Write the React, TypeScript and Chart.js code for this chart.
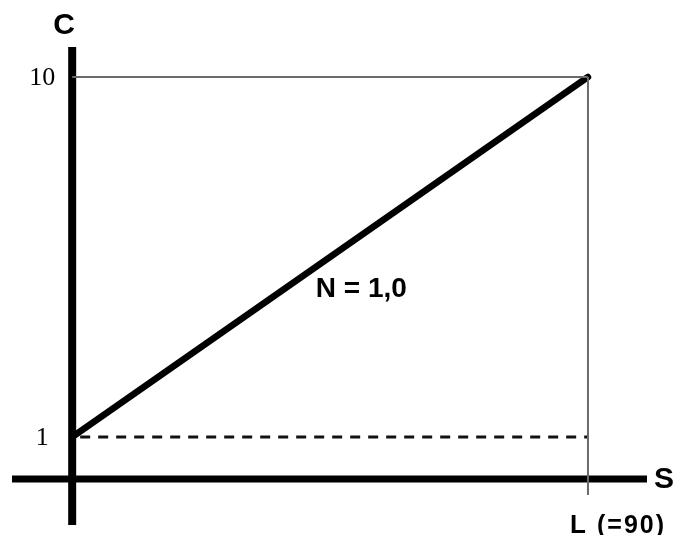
import React, { useEffect, useRef } from "react";
import { Chart, registerables } from "chart.js";

Chart.register(...registerables);

// Data
const sValues = [0, 90];          // S from 0 to L
const cValues = [1, 10];          // C from 1 to 10 (N = 1,0)
const seriesLabel = "N = 1,0";
const yTickValues = [1, 10];
const yTickLabels = ["1", "10"];
const xTickValue = 90;
const xTickMain = "L";
const xTickNote = "(=90)";
const xAxisTitle = "S";
const yAxisTitle = "C";

// axis extents (data units)
const X_MIN = -10.5;
const X_MAX = 100.3;
const Y_MIN = -1.2;
const Y_MAX = 10.75;
const X_AXIS_AT = -0.05;
const GUIDE_BOTTOM = -0.45;

export default function App() {
  const ref = useRef<HTMLCanvasElement | null>(null);

  useEffect(() => {
    const canvas = ref.current;
    if (!canvas) return;

    const textPlugin = {
      id: "textPlugin",
      afterDatasetsDraw(chart: any) {
        const ctx = chart.ctx;
        const xs = chart.scales.x;
        const ys = chart.scales.y;
        const x0 = xs.getPixelForValue(0);
        ctx.save();
        ctx.fillStyle = "#000";
        ctx.textBaseline = "middle";
        // y tick labels
        ctx.font = "26px 'Liberation Serif', 'Times New Roman', serif";
        ctx.textAlign = "center";
        yTickValues.forEach((v, i) => {
          ctx.fillText(yTickLabels[i], x0 - 30, ys.getPixelForValue(v) + 1);
        });
        // axis titles
        ctx.font = "bold 30px 'Liberation Sans', Arial, sans-serif";
        ctx.textAlign = "center";
        ctx.fillText(yAxisTitle, x0 - 8, ys.top - 21);
        ctx.textAlign = "left";
        ctx.fillText(xAxisTitle, xs.right + 7, ys.getPixelForValue(X_AXIS_AT) + 1);
        // L (=90)
        const xl = xs.getPixelForValue(xTickValue);
        ctx.font = "bold 26px 'Liberation Sans', Arial, sans-serif";
        ctx.textAlign = "center";
        ctx.fillText(xTickMain, xl - 10, ys.bottom + 1);
        ctx.font = "bold 25px 'Liberation Sans', Arial, sans-serif";
        ctx.textAlign = "left";
        try { (ctx as any).letterSpacing = "2px"; } catch (e) {}
        ctx.fillText(xTickNote, xl + 9, ys.bottom + 1);
        try { (ctx as any).letterSpacing = "0px"; } catch (e) {}
        // series label
        ctx.font = "bold 28px 'Liberation Sans', Arial, sans-serif";
        ctx.textAlign = "left";
        ctx.fillText(seriesLabel, xs.getPixelForValue(42.5), ys.getPixelForValue(4.7));
        ctx.restore();
      },
    };

    const lineData = sValues.map((s, i) => ({ x: s, y: cValues[i] }));

    const chart = new Chart(canvas, {
      type: "line",
      data: {
        datasets: [
          {
            label: "top guide",
            data: [
              { x: sValues[0], y: cValues[1] },
              { x: sValues[1], y: cValues[1] },
            ],
            borderColor: "#6a6a6a",
            borderWidth: 2,
            pointRadius: 0,
            clip: false as any,
          },
          {
            label: "L guide",
            data: [
              { x: sValues[1], y: cValues[1] },
              { x: sValues[1], y: GUIDE_BOTTOM },
            ],
            borderColor: "#6a6a6a",
            borderWidth: 2,
            pointRadius: 0,
            clip: false as any,
          },
          {
            label: "base",
            data: [
              { x: sValues[0], y: cValues[0] },
              { x: sValues[1], y: cValues[0] },
            ],
            borderColor: "#111",
            borderWidth: 3,
            borderDash: [10, 8],
            borderDashOffset: 10,
            pointRadius: 0,
            clip: false as any,
          },
          {
            label: seriesLabel,
            data: lineData,
            borderColor: "#000",
            borderWidth: 6.5,
            pointRadius: 0,
            borderCapStyle: "round",
            clip: false as any,
          },
          {
            label: "x axis",
            data: [
              { x: X_MIN, y: X_AXIS_AT },
              { x: X_MAX, y: X_AXIS_AT },
            ],
            borderColor: "#000",
            borderWidth: 7,
            pointRadius: 0,
            clip: false as any,
          },
          {
            label: "y axis",
            data: [
              { x: 0, y: Y_MIN },
              { x: 0, y: Y_MAX },
            ],
            borderColor: "#000",
            borderWidth: 8,
            pointRadius: 0,
            clip: false as any,
          },
        ],
      },
      options: {
        animation: false,
        responsive: false,
        layout: { padding: { left: 12, right: 28, top: 47, bottom: 10 } },
        scales: {
          x: { type: "linear", min: X_MIN, max: X_MAX, display: false },
          y: { type: "linear", min: Y_MIN, max: Y_MAX, display: false },
        },
        plugins: {
          legend: { display: false },
          tooltip: { enabled: false },
        },
      },
      plugins: [textPlugin],
    });

    return () => chart.destroy();
  }, []);

  return (
    <div style={{ position: "absolute", left: 0, top: 0, width: 675, height: 535, background: "#fff" }}>
      <canvas ref={ref} width={675} height={535} style={{ display: "block" }} />
    </div>
  );
}
